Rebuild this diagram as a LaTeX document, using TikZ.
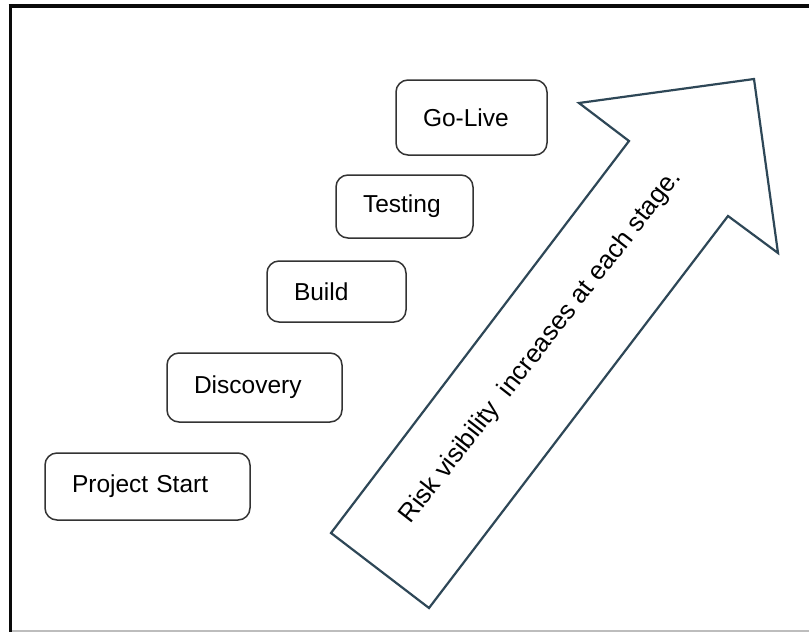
\documentclass[tikz,border=0pt]{standalone}
\usepackage{fontspec}
\setmainfont{Liberation Sans}
\definecolor{boxline}{HTML}{333333}
\definecolor{arrowline}{HTML}{2E4757}
\definecolor{frameline}{HTML}{0A0A0A}
\definecolor{edgegrey}{HTML}{BDBDBD}
\begin{document}
\begin{tikzpicture}[x=1pt,y=-1pt,
  stagebox/.style={draw=boxline, line width=1.5pt, rounded corners=12pt,
    inner xsep=27pt, inner ysep=0pt, align=left,
    font=\fontsize{24.5}{28}\selectfont},
  riskarrow/.style={draw=arrowline, line width=2.2pt, line join=miter},
  arrowtext/.style={font=\fontsize{25.8}{30}\selectfont, rotate=52}]
\useasboundingbox (0,0) rectangle (809,633);
\fill[white] (0,0) rectangle (809,633);
% page frame: heavy top and left rules, light bottom rule
\draw[frameline, line width=4pt] (8.5,6) -- (809,6);
\draw[frameline, line width=3.2pt] (10.6,4) -- (10.6,632);
\draw[edgegrey, line width=1.6pt] (12,631.2) -- (809,631.2);

% stage boxes
\node[stagebox, text width=151pt, minimum height=67pt] (start) at (147.5,486.5) {Project Start};
\node[stagebox, text width=121pt, minimum height=69pt] (discovery) at (254.5,387.5) {Discovery};
\node[stagebox, text width=85pt,  minimum height=61pt] (build) at (336.5,291.5) {Build};
\node[stagebox, text width=83pt,  minimum height=63pt] (testing) at (404.5,206.5) {Testing};
\node[stagebox, text width=97pt,  minimum height=75pt] (golive) at (471.5,117.5) {Go-Live};

% block arrow
\coordinate (tailL) at (331,533);
\coordinate (notchU) at (629,141);
\coordinate (barbU) at (579,103);
\coordinate (tip) at (754,79);
\coordinate (barbL) at (778,253);
\coordinate (notchL) at (728,216);
\coordinate (tailB) at (429,608);
\draw[riskarrow] (tailL) -- (notchU) -- (barbU) -- (tip) -- (barbL) -- (notchL) -- (tailB) -- cycle;
\node[arrowtext] (risk) at (541,347) {Risk visibility~ increases at each stage.};
\end{tikzpicture}
\end{document}
